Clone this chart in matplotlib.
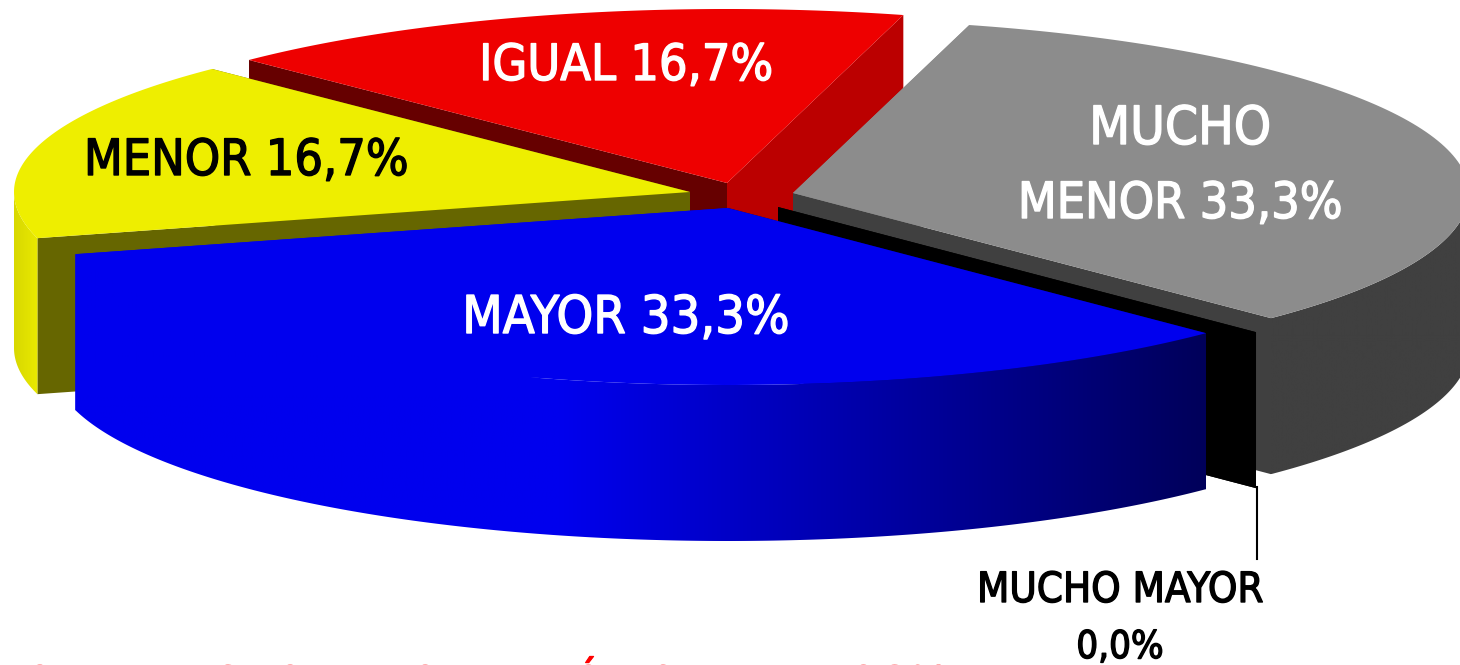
import numpy as np
import matplotlib
matplotlib.use('Agg')
import matplotlib.pyplot as plt
import matplotlib.patheffects as pe
from matplotlib.colors import to_rgb
from matplotlib.patches import Polygon

# slices, clockwise on screen starting from the lower right
categories = ['MAYOR', 'MENOR', 'IGUAL', 'MUCHO\nMENOR', 'MUCHO MAYOR']
shares = [33.3, 16.7, 16.7, 33.3, 0.0]
footer = 'MAYOR Y MUCHO MAYOR: BAJÓ 16,7 PUNTOS%'

START = 45.0
RX, RY, RY_BACK, DEPTH = 676, 177, 174, 156

# apex of each exploded slice, in pixels
apex = {'MAYOR': (728, 208), 'MENOR': (690, 192), 'IGUAL': (727, 183),
        'MUCHO\nMENOR': (793, 193), 'MUCHO MAYOR': (778, 207)}
top_col = {'MAYOR': '#0000ee', 'MENOR': '#eeee00', 'IGUAL': '#ee0000', 'MUCHO\nMENOR': '#8c8c8c', 'MUCHO MAYOR': '#000000'}
# wall at the start angle, wall at the end angle
wall_col = {'MAYOR': ('#00005a', '#0000ee'), 'MENOR': ('#666600', '#666600'), 'IGUAL': ('#660000', '#bb0000'),
            'MUCHO\nMENOR': ('#8c8c8c', '#404040'), 'MUCHO MAYOR': ('#000000', '#000000')}


def arc(c, t0, t1, n=120, dy=0):
    t = np.radians(np.linspace(t0, t1, n))
    s = np.sin(t)
    ry = np.where(s > 0, RY, RY_BACK)
    return np.column_stack([c[0] + RX * np.cos(t), c[1] + ry * s + dy])


def rim_col(name, x):
    if name == 'MAYOR':
        f = np.clip((x - 560) / (1205 - 560), 0, 1)
        return (0, 0, (238 - f * (238 - 90)) / 255)
    if name == 'MENOR':
        f = np.clip((x - 14) / 22, 0, 1)
        return ((216 + f * 16) / 255, (216 + f * 16) / 255, 0)
    return to_rgb('#404040')


def draw_slice(ax, name, t0, t1, z):
    c = apex[name]
    # cut walls
    for i, t in enumerate((t0, t1)):
        p = arc(c, t, t, 1)[0]
        wall = [c, p, (p[0], p[1] + DEPTH), (c[0], c[1] + DEPTH)]
        ax.add_patch(Polygon(wall, fc=wall_col[name][i], ec='none', zorder=z))
    if t1 <= t0:
        return
    # outer rim, only the part turned to the viewer
    lo, hi = max(t0, 0), min(t1, 180)
    if t1 > 360:
        lo, hi = 360, t1
    if hi > lo:
        outline = np.vstack([arc(c, lo, hi, 240), arc(c, hi, lo, 240, DEPTH)])
        x0, x1 = outline[:, 0].min(), outline[:, 0].max()
        y0, y1 = outline[:, 1].min(), outline[:, 1].max()
        xs = np.linspace(x0, x1, 800)
        grad = np.array([[rim_col(name, x) for x in xs]])
        im = ax.imshow(grad, extent=(x0, x1, y1, y0), aspect='auto', zorder=z + 1)
        clip = Polygon(outline, transform=ax.transData, fc='none', ec='none')
        im.set_clip_path(clip)
    top = np.vstack([[c], arc(c, t0, t1)])
    ax.add_patch(Polygon(top, fc=top_col[name], ec='none', zorder=z + 2))


angles = {}
cur = START
for name, s in zip(categories, shares):
    span = 360 * s / 100.0
    angles[name] = (cur, cur + span)
    cur += span

plt.rcParams['font.family'] = ['DejaVu Sans']
fig = plt.figure(figsize=(14.6, 6.65), dpi=100)
ax = fig.add_axes([0, 0, 1, 1])
ax.axis('off')

for i, name in enumerate(['IGUAL', 'MENOR', 'MUCHO\nMENOR', 'MUCHO MAYOR', 'MAYOR']):
    draw_slice(ax, name, *angles[name], z=i * 10)

ax.set_xlim(0, 1460)
ax.set_ylim(665, 0)

ax.plot([1257, 1257], [487, 559], color='black', lw=1.5, zorder=60)


def pct(s):
    return ('%.1f%%' % s).replace('.', ',')


def label(x, y, s, col, size):
    t = ax.text(x, y, s, color=col, ha='center', va='center', stretch='condensed', fontsize=size, zorder=70)
    t.set_path_effects([pe.withStroke(linewidth=1.0, foreground=col)])


label(626, 66, 'IGUAL ' + pct(shares[2]), 'white', 36)
label(246, 161, 'MENOR ' + pct(shares[1]), 'black', 36)
label(626, 319, 'MAYOR ' + pct(shares[0]), 'white', 37.5)
label(1180, 129, 'MUCHO', 'white', 38)
label(1180, 204, 'MENOR ' + pct(shares[3]), 'white', 36)
label(1120, 590, 'MUCHO MAYOR', 'black', 30)
label(1120, 648, pct(shares[4]), 'black', 27.5)

# cut by the bottom and left edges in the original too
f = ax.text(948, 701, footer, color='#ff0000', ha='right', va='baseline', stretch='condensed', fontsize=34.7, zorder=70)
f.set_path_effects([pe.withStroke(linewidth=0.8, foreground='#ff0000')])

fig.savefig('out.png', dpi=100)
